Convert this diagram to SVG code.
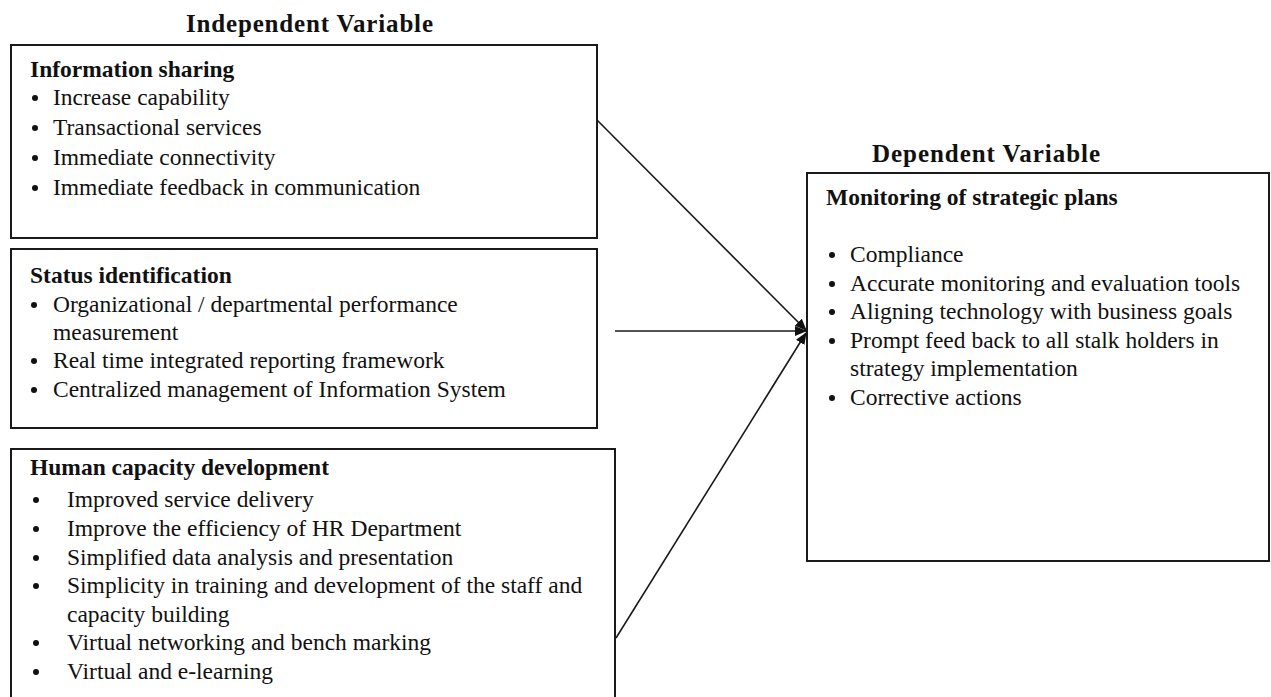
<svg xmlns="http://www.w3.org/2000/svg" width="1271" height="697" viewBox="0 0 1271 697">
<style>
.box{fill:#fff;stroke:#1a1a1a;stroke-width:2}
text{font-family:"Liberation Serif","Times New Roman",serif;font-size:23.5px;fill:#111}
.b{font-weight:bold}
.t{font-weight:bold;font-size:25px}
.bul{fill:#111}
.con{stroke:#1a1a1a;stroke-width:1.6;fill:none}
</style>
<defs>
<marker id="ah" viewBox="0 0 12 10" refX="11" refY="5" markerWidth="12" markerHeight="10" markerUnits="userSpaceOnUse" orient="auto">
<path d="M0,0 L12,5 L0,10 Z" fill="#111"/>
</marker>
</defs>
<rect width="1271" height="697" fill="#fff"/>
<text class="t" x="186" y="32" textLength="247" lengthAdjust="spacing">Independent Variable</text>
<text class="t" x="872" y="162" textLength="228" lengthAdjust="spacing">Dependent Variable</text>

<g id="info-sharing">
<rect class="box" x="11" y="45" width="586" height="193"/>
<text class="b" x="30" y="77">Information sharing</text>
<circle class="bul" cx="35" cy="98" r="3"/><text x="53" y="105">Increase capability</text>
<circle class="bul" cx="35" cy="128" r="3"/><text x="53" y="135">Transactional services</text>
<circle class="bul" cx="35" cy="158" r="3"/><text x="53" y="165">Immediate connectivity</text>
<circle class="bul" cx="35" cy="188" r="3"/><text x="53" y="195">Immediate feedback in communication</text>
</g>

<g id="status-identification">
<rect class="box" x="11" y="249" width="586" height="179"/>
<text class="b" x="30" y="283">Status identification</text>
<circle class="bul" cx="34" cy="305" r="3"/><text x="53" y="312">Organizational / departmental performance</text>
<text x="53" y="340">measurement</text>
<circle class="bul" cx="34" cy="361" r="3"/><text x="53" y="368">Real time integrated reporting framework</text>
<circle class="bul" cx="34" cy="390" r="3"/><text x="53" y="397">Centralized management of Information System</text>
</g>

<g id="human-capacity">
<rect class="box" x="11" y="449" width="604" height="270"/>
<text class="b" x="30" y="475">Human capacity development</text>
<circle class="bul" cx="36" cy="500" r="3"/><text x="67" y="507">Improved service delivery</text>
<circle class="bul" cx="36" cy="529" r="3"/><text x="67" y="536">Improve the efficiency of HR Department</text>
<circle class="bul" cx="36" cy="558" r="3"/><text x="67" y="565">Simplified data analysis and presentation</text>
<circle class="bul" cx="36" cy="586" r="3"/><text x="67" y="593">Simplicity in training and development of the staff and</text>
<text x="67" y="622">capacity building</text>
<circle class="bul" cx="36" cy="643" r="3"/><text x="67" y="650">Virtual networking and bench marking</text>
<circle class="bul" cx="36" cy="672" r="3"/><text x="67" y="679">Virtual and e-learning</text>
</g>

<g id="monitoring">
<rect class="box" x="807" y="173" width="462" height="388"/>
<text class="b" x="826" y="205">Monitoring of strategic plans</text>
<circle class="bul" cx="832" cy="255" r="3"/><text x="850" y="262">Compliance</text>
<circle class="bul" cx="832" cy="284" r="3"/><text x="850" y="291">Accurate monitoring and evaluation tools</text>
<circle class="bul" cx="832" cy="312" r="3"/><text x="850" y="319">Aligning technology with business goals</text>
<circle class="bul" cx="832" cy="341" r="3"/><text x="850" y="348">Prompt feed back to all stalk holders in</text>
<text x="850" y="376">strategy implementation</text>
<circle class="bul" cx="832" cy="398" r="3"/><text x="850" y="405">Corrective actions</text>
</g>

<g id="connectors">
<line class="con" x1="597" y1="120" x2="806" y2="330" marker-end="url(#ah)"/>
<line class="con" x1="615" y1="331" x2="806" y2="331" marker-end="url(#ah)"/>
<line class="con" x1="616" y1="638" x2="806" y2="333" marker-end="url(#ah)"/>
</g>
</svg>
